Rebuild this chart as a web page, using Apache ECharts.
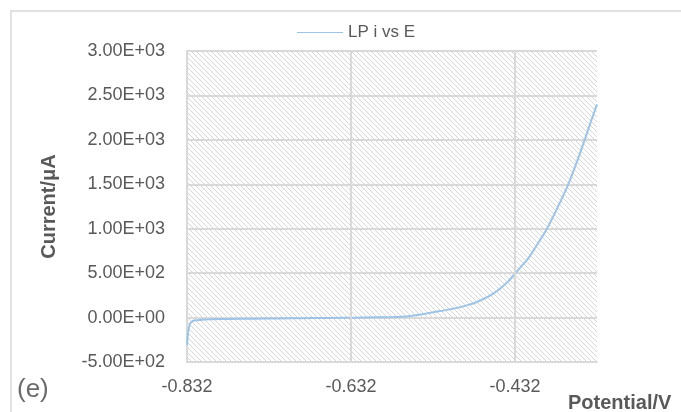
<!DOCTYPE html>
<html>
<head>
<meta charset="utf-8">
<script src="https://cdn.jsdelivr.net/npm/echarts@6/dist/echarts.min.js"></script>
<style>
html,body{margin:0;padding:0;background:#fff;}
#chart{width:681px;height:412px;}
</style>
</head>
<body>
<div id="chart"></div>
<script>
// ---- data ----
var seriesName = 'LP i vs E';
var potential = [-0.832, -0.831, -0.830, -0.829, -0.828, -0.826, -0.824, -0.821, -0.817, -0.810, -0.800, -0.780, -0.750, -0.720, -0.690, -0.660, -0.630, -0.600, -0.580, -0.570, -0.560, -0.550, -0.540, -0.530, -0.520, -0.510, -0.500, -0.490, -0.480, -0.470, -0.460, -0.450, -0.440, -0.432, -0.424, -0.416, -0.405, -0.393, -0.380, -0.367, -0.357, -0.347, -0.340, -0.332];
var current   = [-310, -200, -130, -90, -65, -45, -36, -30, -26, -22, -19, -16, -13, -10, -7, -4, -1, 3, 6, 10, 18, 30, 45, 62, 78, 95, 115, 140, 170, 210, 260, 327, 410, 495, 580, 664, 820, 1000, 1240, 1500, 1740, 2000, 2190, 2400];
var xTickLabels = ['-0.832', '-0.632', '-0.432'];
var xOrigin = -0.832;
var xSpan = 0.5;
var xStep = 0.2;
var yMin = -500, yMax = 3000, yStep = 500;

function sci(v) {
  if (v === 0) return '0.00E+00';
  var s = v < 0 ? '-' : '';
  var a = Math.abs(v);
  var e = Math.floor(Math.log10(a) + 1e-9);
  var m = a / Math.pow(10, e);
  var es = (e < 0 ? '-' : '+') + (Math.abs(e) < 10 ? '0' : '') + Math.abs(e);
  return s + m.toFixed(2) + 'E' + es;
}

// hatch pattern
var pc = document.createElement('canvas');
pc.width = 5; pc.height = 5;
var g = pc.getContext('2d');
g.fillStyle = '#ffffff'; g.fillRect(0, 0, 5, 5);
g.strokeStyle = '#d6d6d6'; g.lineWidth = 1;
g.beginPath();
g.moveTo(-1, -1); g.lineTo(6, 6);
g.moveTo(-1, 4); g.lineTo(1, 6);
g.moveTo(4, -1); g.lineTo(6, 1);
g.stroke();

var data = potential.map(function (p, i) { return [p - xOrigin, current[i]]; });
var vLines = [];
for (var k = 1; k < xTickLabels.length; k++) vLines.push({ xAxis: k * xStep });

var chart = echarts.init(document.getElementById('chart'), null, { renderer: 'canvas' });
var font = '"Liberation Sans", Arial, sans-serif';
chart.setOption({
  animation: false,
  backgroundColor: '#fff',
  textStyle: { fontFamily: font },
  grid: {
    left: 187, right: 84, top: 51, bottom: 50,
    show: true, borderWidth: 0,
    backgroundColor: { image: pc, repeat: 'repeat' }
  },
  legend: {
    show: true, left: 297, top: 24, padding: 0,
    itemWidth: 46, itemHeight: 10, itemGap: 5,
    icon: 'path://M0,4.5 L46,4.5 L46,5.5 L0,5.5 Z',
    textStyle: { color: '#595959', fontSize: 17, fontFamily: font },
    data: [{ name: seriesName, itemStyle: { color: '#9dc3e6' } }]
  },
  xAxis: {
    type: 'value', min: 0, max: xSpan, interval: xStep,
    axisLine: { show: true, onZero: false, lineStyle: { color: '#d9d9d9', width: 2 } },
    axisTick: { show: false },
    splitLine: { show: false },
    axisLabel: {
      color: '#595959', fontSize: 18, margin: 16, fontFamily: font,
      showMaxLabel: false,
      formatter: function (v) {
        var idx = Math.round(v / xStep);
        if (Math.abs(v - idx * xStep) > 1e-6) return '';
        return xTickLabels[idx] || '';
      }
    }
  },
  yAxis: {
    type: 'value', min: yMin, max: yMax, interval: yStep,
    name: 'Current/μA', nameLocation: 'middle', nameGap: 128,
    nameTextStyle: { color: '#595959', fontSize: 20, fontWeight: 'bold', fontFamily: font },
    axisLine: { show: true, lineStyle: { color: '#d9d9d9', width: 2 } },
    axisTick: { show: false },
    splitLine: { show: true, lineStyle: { color: '#d9d9d9', width: 2 } },
    axisLabel: { color: '#595959', fontSize: 18, margin: 22, fontFamily: font, formatter: sci }
  },
  series: [
    {
      name: '__grid', type: 'line', data: [], z: 1, silent: true,
      markLine: {
        silent: true, symbol: ['none', 'none'], label: { show: false },
        lineStyle: { color: '#d9d9d9', width: 2, type: 'solid' },
        data: vLines
      }
    },
    {
      name: seriesName, type: 'line', z: 3, data: data,
      showSymbol: false, smooth: 0.25,
      lineStyle: { color: '#9dc3e6', width: 2 },
      itemStyle: { color: '#9dc3e6' }
    }
  ],
  graphic: [
    { type: 'rect', silent: true, z: -1, shape: { x: 11, y: 11, width: 800, height: 600 },
      style: { fill: 'none', stroke: '#d9d9d9', lineWidth: 1.5 } },
    { type: 'text', left: 568, top: 393, silent: true,
      style: { text: 'Potential/V', fill: '#595959', font: 'bold 20px ' + font } },
    { type: 'text', left: 17, top: 377, silent: true,
      style: { text: '(e)', fill: '#6b6b6b', font: '26px ' + font } }
  ]
});
</script>
</body>
</html>
